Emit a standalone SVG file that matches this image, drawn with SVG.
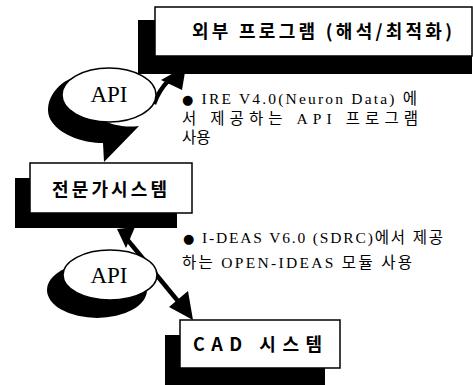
<svg xmlns="http://www.w3.org/2000/svg" width="473" height="385" viewBox="0 0 473 385">
<style>
.box{fill:#fff;stroke:#000;stroke-width:1.5}
.sh{fill:#000}
.lbl{font-family:"Noto Sans CJK KR","Liberation Sans",sans-serif;font-weight:bold;font-size:18px;fill:#000}
.api{font-family:"Liberation Serif",serif;font-size:23px;fill:#000}
.note{font-family:"Liberation Serif","Noto Sans CJK KR",serif;font-size:15.5px;fill:#000}
.bul{font-family:"DejaVu Sans",sans-serif;font-size:13px}
.ell{fill:#fff;stroke:#000;stroke-width:1.5}
</style>
<g id="connectors">
  <path class="sh" d="M72,78 C52,86 42,108 52,122 C62,136 84,143 103,143 L104,162 L139,126 C125,128 110,125 100,118 Z"/>
  <path d="M154,104 Q159,90 169,80" fill="none" stroke="#000" stroke-width="4.5"/>
  <polygon points="186,66 161,80 182,90" fill="#000"/>
  <line x1="126" y1="238" x2="182" y2="306" stroke="#000" stroke-width="4.5"/>
  <polygon points="117,229 135,227 126,248" fill="#000"/>
  <polygon points="193,320 169,307 188,291" fill="#000"/>
</g>
<g id="ext">
  <rect class="sh" x="138" y="20" width="334" height="54"/>
  <rect class="box" x="155" y="7" width="317" height="49"/>
  <text class="lbl" x="192" y="38" textLength="260" lengthAdjust="spacing">외부 프로그램 (해석/최적화)</text>
</g>
<g id="api1">
  <ellipse class="ell" cx="109" cy="95" rx="47" ry="27"/>
  <text class="api" x="109" y="102" text-anchor="middle">API</text>
</g>
<g id="note1">
  <text class="note" x="182" y="104" textLength="235" lengthAdjust="spacing"><tspan class="bul">●</tspan> IRE V4.0(Neuron Data) 에</text>
  <text class="note" x="182" y="124" textLength="236" lengthAdjust="spacing">서 제공하는 API 프로그램</text>
  <text class="note" x="182" y="143">사용</text>
</g>
<g id="expert">
  <rect class="sh" x="15" y="178" width="162" height="50"/>
  <rect class="box" x="30" y="163" width="162" height="50"/>
  <text class="lbl" x="52" y="196" textLength="115" lengthAdjust="spacing">전문가시스템</text>
</g>
<g id="api2">
  <ellipse class="sh" cx="97" cy="290" rx="50" ry="28"/>
  <ellipse class="ell" cx="110" cy="275" rx="47" ry="25"/>
  <text class="api" x="109" y="283" text-anchor="middle">API</text>
</g>
<g id="note2">
  <text class="note" x="183" y="243" textLength="260" lengthAdjust="spacing"><tspan class="bul">●</tspan> I-DEAS V6.0 (SDRC)에서 제공</text>
  <text class="note" x="182" y="268" textLength="230" lengthAdjust="spacing">하는 OPEN-IDEAS 모듈 사용</text>
</g>
<g id="cad">
  <rect class="sh" x="165" y="335" width="160" height="50"/>
  <rect class="box" x="180" y="320" width="160" height="48"/>
  <text class="lbl" x="193" y="351" textLength="129" lengthAdjust="spacing">CAD 시스템</text>
</g>
</svg>
